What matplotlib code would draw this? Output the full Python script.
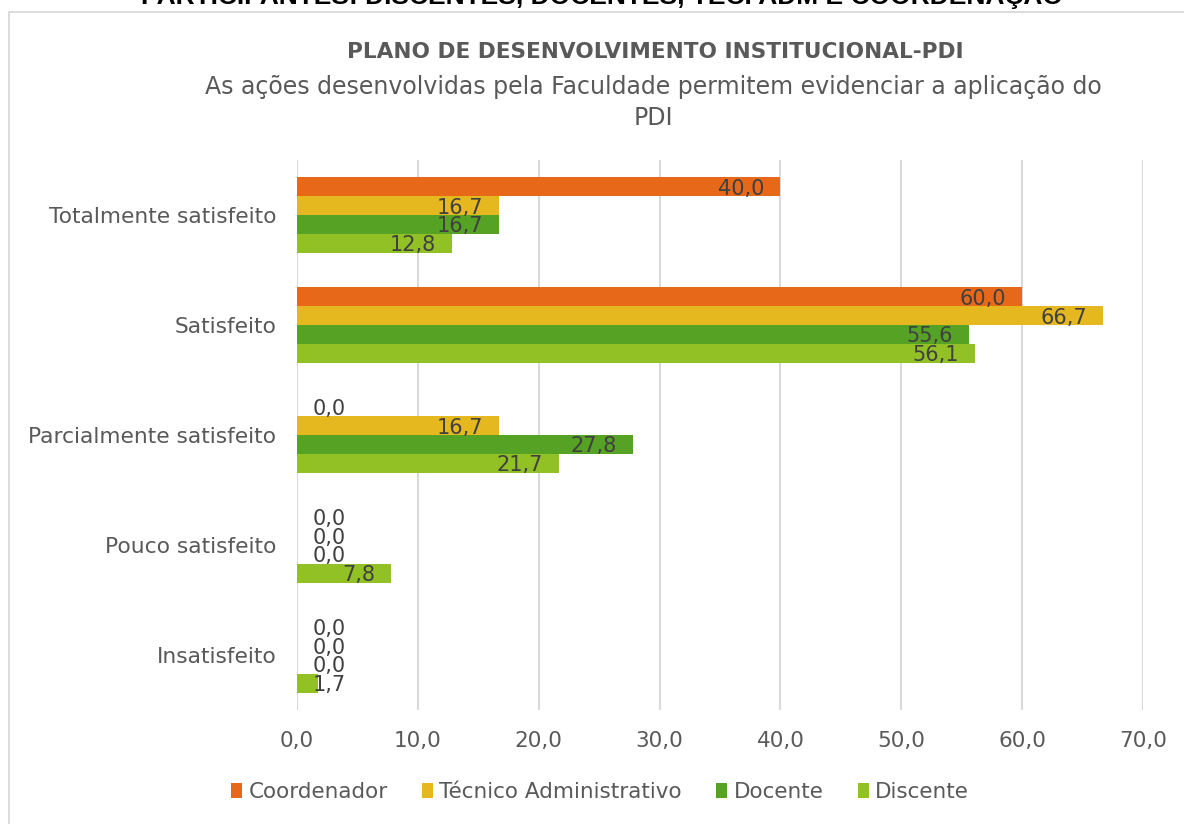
import matplotlib
matplotlib.use("Agg")
import matplotlib.pyplot as plt
from matplotlib.patches import Rectangle
import numpy as np

categories = ["Totalmente satisfeito", "Satisfeito", "Parcialmente satisfeito",
              "Pouco satisfeito", "Insatisfeito"]
series_names = ["Coordenador", "Técnico Administrativo", "Docente", "Discente"]
coordenador = [40.0, 60.0, 0.0, 0.0, 0.0]
tecnico = [16.7, 66.7, 16.7, 0.0, 0.0]
docente = [16.7, 55.6, 27.8, 0.0, 0.0]
discente = [12.8, 56.1, 21.7, 7.8, 1.7]
colors = ["#E8681A", "#E5B820", "#55A224", "#92C126"]
xticks = [0, 10, 20, 30, 40, 50, 60, 70]

plt.rcParams['font.family'] = ['DejaVu Sans']

W, H = 1184, 824
fig = plt.figure(figsize=(W / 100, H / 100), dpi=100)

# chart border
fig.patches.append(Rectangle((9 / W, -0.1), 1.2, (H - 12.5) / H + 0.1, transform=fig.transFigure,
                             fill=False, edgecolor="#D9D9D9", linewidth=1.3))

# clipped header text (only its lower part is visible, as in the reference)
fig.text(602 / W, 1 - 4 / H, "PARTICIPANTES: DISCENTES, DOCENTES, TÉC. ADM E COORDENAÇÃO",
         ha="center", va="baseline", fontsize=19, fontweight="bold", color="black",
         family="Liberation Sans")

# titles
fig.text(655 / W, 1 - 52 / H, "PLANO DE DESENVOLVIMENTO INSTITUCIONAL-PDI", ha="center", va="center",
         fontsize=15.6, fontweight="bold", color="#595959")
fig.text(653 / W, 1 - 87 / H, "As ações desenvolvidas pela Faculdade permitem evidenciar a aplicação do",
         ha="center", va="center", fontsize=17, color="#595959")
fig.text(653 / W, 1 - 118 / H, "PDI", ha="center", va="center", fontsize=17, color="#595959")

ax_left, ax_right, ax_top, ax_bottom = 297, 1143, 160, 710
ax = fig.add_axes([ax_left / W, 1 - ax_bottom / H, (ax_right - ax_left) / W, (ax_bottom - ax_top) / H])

n = len(categories)
y = np.arange(n)[::-1].astype(float)
series = [coordenador, tecnico, docente, discente]
group = 0.69
bh = group / len(series)
px_per_unit = (ax_right - ax_left) / 70.0

for i, (vals, col, name) in enumerate(zip(series, colors, series_names)):
    ypos = y + group / 2 - bh * (i + 0.5)
    ax.barh(ypos, vals, height=bh, color=col, label=name, zorder=3)
    for yp, v in zip(ypos, vals):
        lab = f"{v:.1f}".replace(".", ",")
        if v * px_per_unit < 70:
            ax.annotate(lab, (0, yp), xytext=(16, -2), textcoords="offset pixels",
                        ha="left", va="center", fontsize=15, color="#404040", zorder=4)
        else:
            ax.annotate(lab, (v, yp), xytext=(-16, -2), textcoords="offset pixels",
                        ha="right", va="center", fontsize=15, color="#404040", zorder=4)

ax.set_xlim(0, 70)
ax.set_ylim(-0.5, n - 0.5)
ax.set_xticks(xticks)
ax.set_xticklabels([f"{t:.1f}".replace(".", ",") for t in xticks], fontsize=15.5, color="#595959")
ax.set_yticks(y)
ax.set_yticklabels(categories, fontsize=15.7, color="#595959")
ax.tick_params(axis="both", length=0)
ax.tick_params(axis="x", pad=15)
ax.tick_params(axis="y", pad=15)
ax.grid(axis="x", color="#D9D9D9", linewidth=1.5, zorder=0)
for s in ax.spines.values():
    s.set_visible(False)

handles, labels = ax.get_legend_handles_labels()
fig.legend(handles, labels, loc="center", bbox_to_anchor=(600 / W, 1 - 792 / H), ncol=4,
           frameon=False, fontsize=15.5, handlelength=0.5, handleheight=0.75,
           handletextpad=0.3, columnspacing=1.6, labelcolor="#595959")

fig.savefig("out.png", dpi=100)
